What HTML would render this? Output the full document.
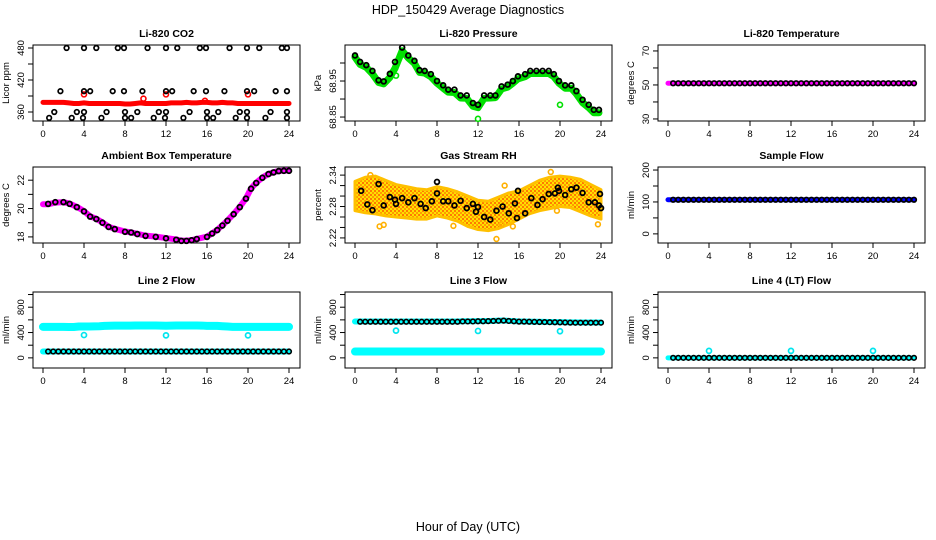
<!DOCTYPE html>
<html><head><meta charset="utf-8">
<style>
html,body{margin:0;padding:0;background:#fff;}
svg{display:block;font-family:"Liberation Sans",Arial,sans-serif;}
</style></head>
<body>
<svg id="chart" width="936" height="540" viewBox="0 0 936 540">
<defs>
<pattern id="orangePat" width="4" height="4" patternUnits="userSpaceOnUse">
<rect width="4" height="4" fill="#ffe000"/><rect width="2" height="2" fill="#ff9a00"/><rect x="2" y="2" width="2" height="2" fill="#ff7a00"/>
</pattern>
</defs>
<text x="468" y="14" text-anchor="middle" font-size="12.5">HDP_150429  Average Diagnostics</text>
<text x="468" y="531" text-anchor="middle" font-size="12.5">Hour of Day (UTC)</text>
</svg>
<script>
// ---- data ----
const H = [0,0.5,1,1.5,2,2.5,3,3.5,4,4.5,5,5.5,6,6.5,7,7.5,8,8.5,9,9.5,10,10.5,11,11.5,12,12.5,13,13.5,14,14.5,15,15.5,16,16.5,17,17.5,18,18.5,19,19.5,20,20.5,21,21.5,22,22.5,23,23.5,24];
const xTicks = [0,4,8,12,16,20,24];

const co2BlackX = [2.3,4.0,5.2,7.3,7.9,10.2,12.0,13.1,15.3,15.9,18.2,19.9,21.1,23.3,23.8, 1.7,4.0,4.6,6.8,7.9,9.7,12.0,12.6,14.7,15.9,17.7,19.9,20.6,22.7,23.8, 1.1,3.3,4.0,6.2,8.0,9.2,11.3,12.0,14.3,16.0,17.1,19.2,19.9,22.2,23.8, 0.6,2.8,3.9,5.7,8.0,8.6,10.8,11.9,13.7,16.0,16.6,18.8,19.9,21.7,23.8];
const co2BlackY = [480,480,480,480,480,480,480,480,480,480,480,480,480,480,480, 399,399,399,399,399,399,399,399,399,399,399,399,399,399,399, 360,360,360,360,360,360,360,360,360,360,360,360,360,360,360, 349,349,349,349,349,349,349,349,349,349,349,349,349,349,349];
const co2Red = [378,378,378,378,378,377,376,376,377,376,376,376,376,376,376,376,375,375,376,377,376,376,376,376,376,377,377,377,378,377,377,378,378,377,377,378,377,377,376,376,376,376,376,376,376,376,376,376,376];
const co2RedOutX = [4,12,20,9.8,15.8];
const co2RedOutY = [393,393,393,385,381];

const presX = [0,0.5,1.1,1.7,2.3,2.8,3.4,3.9,4.6,5.2,5.8,6.3,6.8,7.4,8,8.6,9.1,9.7,10.3,10.9,11.5,12,12.6,13.2,13.7,14.3,14.9,15.4,15.9,16.6,17.1,17.7,18.3,18.9,19.4,19.9,20.5,21.1,21.6,22.2,22.8,23.3,23.8];
const presBlack = [69.021,69.003,68.994,68.978,68.952,68.949,68.970,69.003,69.043,69.021,69.006,68.980,68.978,68.969,68.950,68.938,68.926,68.926,68.910,68.910,68.889,68.884,68.910,68.910,68.910,68.935,68.940,68.950,68.963,68.969,68.978,68.978,68.978,68.978,68.969,68.950,68.938,68.938,68.922,68.898,68.884,68.870,68.870];
const presGreen = [69.016,68.996,68.988,68.970,68.946,68.942,68.960,68.985,69.034,69.014,68.999,68.974,68.972,68.962,68.944,68.930,68.919,68.918,68.903,68.902,68.880,68.876,68.902,68.903,68.904,68.928,68.933,68.944,68.956,68.962,68.971,68.971,68.971,68.971,68.962,68.944,68.930,68.930,68.914,68.890,68.876,68.862,68.862];
const presOutX = [4,12,20];
const presOutY = [68.965,68.845,68.884];

const tempMag = [51,51,51,51,51,51,51,51,51,51,51,51,51,51,51,51,51,51,51,51,51,51,51,51,51,51,51,51,51,51,51,51,51,51,51,51,51,51,51,51,51,51,51,51,51,51,51,51,51];
const tempBlack = [null,51,51,51,51,51,51,51,51,51,51,51,51,51,51,51,51,51,51,51,51,51,51,51,51,51,51,51,51,51,51,51,51,51,51,51,51,51,51,51,51,51,51,51,51,51,51,51,51];

const ambX = [0.5,1.2,2,2.6,3.3,4,4.6,5.2,5.8,6.4,7,8,8.6,9.2,10,11,12,13,13.5,14,14.5,15,16,16.5,17,17.5,18,18.6,19.2,19.8,20.3,20.8,21.4,22,22.5,23,23.5,24];
const ambBlack = [20.33,20.45,20.45,20.33,20.1,19.8,19.43,19.26,19.0,18.7,18.55,18.36,18.31,18.2,18.07,18.0,17.9,17.8,17.72,17.72,17.76,17.85,18.0,18.24,18.48,18.8,19.14,19.6,20.1,20.7,21.4,21.8,22.17,22.43,22.55,22.64,22.66,22.66];
const ambMag = [20.3,20.42,20.45,20.35,20.12,19.82,19.45,19.28,19.02,18.72,18.57,18.38,18.32,18.22,18.09,18.02,17.92,17.82,17.74,17.74,17.77,17.86,18.02,18.25,18.5,18.82,19.16,19.62,20.12,20.72,21.42,21.82,22.18,22.44,22.56,22.65,22.67,22.67];

const rhBandX = [0,1,2,3,4,5,6,7,8,9,10,11,12,13,14,15,16,17,18,19,20,21,22,23,24];
const rhUpper = [2.328,2.336,2.338,2.330,2.322,2.318,2.314,2.312,2.318,2.314,2.308,2.300,2.292,2.290,2.298,2.306,2.310,2.320,2.330,2.336,2.338,2.336,2.332,2.322,2.312];
const rhLower = [2.272,2.268,2.266,2.262,2.260,2.258,2.256,2.256,2.262,2.258,2.252,2.242,2.236,2.234,2.238,2.246,2.256,2.266,2.272,2.276,2.280,2.278,2.270,2.262,2.256];
const rhOutX = [1.5,2.4,2.8,9.6,13.8,14.3,14.6,15.4,19.1,19.7,23.7];
const rhOutY = [2.340,2.242,2.245,2.243,2.218,2.246,2.320,2.242,2.346,2.272,2.246];
const rhBlackX = [0.6,1.2,1.7,2.3,2.8,3.4,3.9,4.0,4.6,5.2,5.8,6.4,6.9,7.5,8,8,8.6,9.1,9.7,10.3,10.9,11.5,11.8,12,12.6,13.2,13.8,14.4,15,15.6,15.8,15.9,16.6,17.2,17.8,18.3,18.9,19.5,19.8,19.9,20.5,21.1,21.6,22.2,22.8,23.4,23.8,23.9,24];
const rhBlack = [2.310,2.284,2.273,2.323,2.282,2.298,2.293,2.285,2.296,2.288,2.296,2.285,2.277,2.290,2.305,2.327,2.290,2.290,2.282,2.291,2.277,2.285,2.270,2.279,2.260,2.255,2.272,2.280,2.267,2.286,2.258,2.310,2.267,2.296,2.283,2.294,2.304,2.305,2.316,2.310,2.302,2.313,2.316,2.306,2.288,2.288,2.282,2.304,2.277];

const sfBlue = [107,107,107,107,107,107,107,107,107,107,107,107,107,107,107,107,107,107,107,107,107,107,107,107,107,107,107,107,107,107,107,107,107,107,107,107,107,107,107,107,107,107,107,107,107,107,107,107,107];
const sfBlack = [null,107,107,107,107,107,107,107,107,107,107,107,107,107,107,107,107,107,107,107,107,107,107,107,107,107,107,107,107,107,107,107,107,107,107,107,107,107,107,107,107,107,107,107,107,107,107,107,107];

const l2High = [490,490,490,490,490,488,488,495,495,495,498,500,505,508,510,510,510,510,512,512,512,512,512,510,508,510,512,512,512,512,512,510,505,505,505,500,495,490,490,490,490,490,490,490,490,490,490,490,490];
const l2Low = [100,100,100,100,100,100,100,100,100,100,100,100,100,100,100,100,100,100,100,100,100,100,100,100,100,100,100,100,100,100,100,100,100,100,100,100,100,100,100,100,100,100,100,100,100,100,100,100,100];
const l2Black = [null,100,100,100,100,100,100,100,100,100,100,100,100,100,100,100,100,100,100,100,100,100,100,100,100,100,100,100,100,100,100,100,100,100,100,100,100,100,100,100,100,100,100,100,100,100,100,100,100];
const l2OutX = [4,12,20];
const l2OutY = [360,355,355];

const l3High = [575,575,575,575,575,575,575,575,575,575,575,575,575,575,575,575,575,575,575,575,575,578,578,578,580,580,582,585,588,590,585,580,575,575,572,570,570,568,566,565,565,563,560,560,558,558,558,558,558];
const l3Black = [null,570,570,570,570,570,570,570,570,570,570,570,570,570,570,570,570,570,570,570,570,575,575,575,578,578,580,583,585,588,583,578,572,572,570,568,566,565,563,562,560,558,556,555,555,555,555,555,555];
const l3Low = [100,100,100,100,100,100,100,100,100,100,100,100,100,100,100,100,100,100,100,100,100,100,100,100,100,100,100,100,100,100,100,100,100,100,100,100,100,100,100,100,100,100,100,100,100,100,100,100,100];
const l3OutX = [4,12,20];
const l3OutY = [430,425,420];

const l4Cyan = [0,0,0,0,0,0,0,0,0,0,0,0,0,0,0,0,0,0,0,0,0,0,0,0,0,0,0,0,0,0,0,0,0,0,0,0,0,0,0,0,0,0,0,0,0,0,0,0,0];
const l4Black = [null,0,0,0,0,0,0,0,0,0,0,0,0,0,0,0,0,0,0,0,0,0,0,0,0,0,0,0,0,0,0,0,0,0,0,0,0,0,0,0,0,0,0,0,0,0,0,0,0];
const l4OutX = [4,12,20];
const l4OutY = [110,110,110];

// ---- drawing ----
const svg = document.getElementById('chart');
const NS = 'http://www.w3.org/2000/svg';
function mk(tag, attrs, parent){ const e=document.createElementNS(NS,tag); for(const k in attrs) e.setAttribute(k,attrs[k]); (parent||svg).appendChild(e); return e; }

const colLeft = [33,345,658];
const rowTop = [45,167,292];
const BW = 267, BHt = 76;

function panel(c, r, title, ylab, ymin, ymax, yticks, ylabels, name){
  const g = mk('g',{});
  
  
  const L = colLeft[c], T = rowTop[r], B = T + BHt;
  const x0 = L + 10, x1 = L + 256;
  const sx = v => x0 + (x1-x0)*v/24;
  const sy = v => B - (v-ymin)/(ymax-ymin)*BHt;
  const box = mk('rect',{x:L,y:T,width:BW,height:BHt,fill:'none',stroke:'#000','stroke-width':1},g);
  
  
  const t = mk('text',{x:L+BW/2,y:T-8,'text-anchor':'middle','font-size':10.5,'font-weight':'bold'},g);
  t.textContent = title;
  
  
  xTicks.forEach(v=>{
    mk('line',{x1:sx(v),x2:sx(v),y1:B,y2:B+5,stroke:'#000'},g);
    const tl = mk('text',{x:sx(v),y:B+16,'text-anchor':'middle','font-size':9.5},g);
    tl.textContent = v;
    
    
  });
  yticks.forEach((v,i)=>{
    const y = sy(v);
    mk('line',{x1:L-5,x2:L,y1:y,y2:y,stroke:'#000'},g);
    if(ylabels[i]!==''){
      const tl = mk('text',{x:0,y:0,'text-anchor':'middle','font-size':9.5,transform:`translate(${L-9},${y}) rotate(-90)`},g);
      tl.textContent = ylabels[i];
      
      
    }
  });
  const yt = mk('text',{x:0,y:0,'text-anchor':'middle','font-size':9.5,transform:`translate(${L-24},${(T+B)/2}) rotate(-90)`},g);
  yt.textContent = ylab;
  
  
  const sg = mk('g',{},g);
  return {sx, sy, g:sg};
}

function band(p, xs, ys, color, w, name){
  let d=''; xs.forEach((x,i)=>{ if(ys[i]==null) return; d += (d?'L':'M')+p.sx(x)+' '+p.sy(ys[i]); });
  const e = mk('path',{d, fill:'none', stroke:color,'stroke-width':w,'stroke-linecap':'round','stroke-linejoin':'round'},p.g);
  
  
}
function pts(p, xs, ys, color, r, sw, name){
  const g = mk('g',{},p.g);
  
  
  xs.forEach((x,i)=>{ if(ys[i]==null) return;
    mk('circle',{cx:p.sx(x),cy:p.sy(ys[i]),r:r,fill:'none',stroke:color,'stroke-width':sw},g); });
}

let p = panel(0,0,'Li-820 CO2','Licor ppm',343.1,485.6,[360,390,420,450,480],['360','','420','','480'],'panel-co2');
band(p,H,co2Red,'#ff0000',5,'co2-red-series');
pts(p,co2RedOutX,co2RedOutY,'#ff0000',2.5,1.6,'co2-red-outliers');
pts(p,co2BlackX,co2BlackY,'#000',2.3,1.7,'co2-black-points');

p = panel(1,0,'Li-820 Pressure','kPa',68.839,69.05,[68.85,68.90,68.95,69.00],['68.85','','68.95',''],'panel-pressure');
band(p,presX,presGreen,'#00e000',7,'pressure-green-series');
pts(p,presOutX,presOutY,'#00e000',2.5,1.6,'pressure-green-outliers');
pts(p,presX,presBlack,'#000',2.4,1.8,'pressure-black-points');

p = panel(2,0,'Li-820 Temperature','degrees C',28.8,73.5,[30,40,50,60,70],['30','','50','','70'],'panel-temperature');
band(p,H,tempMag,'#ff00ff',5,'temperature-magenta-series');
pts(p,H,tempBlack,'#000',2.3,1.7,'temperature-black-points');

p = panel(0,1,'Ambient Box Temperature','degrees C',17.57,22.93,[18,19,20,21,22],['18','','20','','22'],'panel-ambient');
band(p,[0].concat(ambX),[20.3].concat(ambMag),'#ff00ff',6,'ambient-magenta-series');
pts(p,ambX,ambBlack,'#000',2.4,1.8,'ambient-black-points');

p = panel(1,1,'Gas Stream RH','percent',2.2103,2.3555,[2.22,2.24,2.26,2.28,2.30,2.32,2.34],['2.22','','','2.28','','','2.34'],'panel-rh');
(function(){
  let d=''; rhBandX.forEach((x,i)=>{ d+=(i?'L':'M')+p.sx(x)+' '+p.sy(rhUpper[i]); });
  for(let i=rhBandX.length-1;i>=0;i--) d+='L'+p.sx(rhBandX[i])+' '+p.sy(rhLower[i]);
  d+='Z';
  const e = mk('path',{d,fill:'url(#orangePat)',stroke:'#ffc000','stroke-width':3,'stroke-linejoin':'round'},p.g);
  
  
})();
pts(p,rhOutX,rhOutY,'#ffb000',2.4,1.6,'rh-orange-outliers');
pts(p,rhBlackX,rhBlack,'#000',2.4,1.8,'rh-black-points');

p = panel(2,1,'Sample Flow','ml/min',-28.6,209.5,[0,50,100,150,200],['0','','100','','200'],'panel-sample-flow');
band(p,H,sfBlue,'#0000ff',5,'sample-flow-blue-series');
pts(p,H,sfBlack,'#000',2.3,1.7,'sample-flow-black-points');

p = panel(0,2,'Line 2 Flow','ml/min',-160,1040,[0,200,400,600,800,1000],['0','','400','','800',''],'panel-line2-flow');
band(p,H,l2High,'#00ffff',8,'line2-cyan-high');
band(p,H,l2Low,'#00ffff',6,'line2-cyan-low');
pts(p,l2OutX,l2OutY,'#00e5ee',2.5,1.7,'line2-cyan-outliers');
pts(p,H,l2Black,'#000',2.3,1.6,'line2-black-points');

p = panel(1,2,'Line 3 Flow','ml/min',-160,1040,[0,200,400,600,800,1000],['0','','400','','800',''],'panel-line3-flow');
band(p,H,l3High,'#00ffff',6,'line3-cyan-high');
band(p,H,l3Low,'#00ffff',8,'line3-cyan-low');
pts(p,l3OutX,l3OutY,'#00e5ee',2.5,1.7,'line3-cyan-outliers');
pts(p,H,l3Black,'#000',2.3,1.6,'line3-black-points');

p = panel(2,2,'Line 4 (LT) Flow','ml/min',-160,1040,[0,200,400,600,800,1000],['0','','400','','800',''],'panel-line4-flow');
band(p,H,l4Cyan,'#00ffff',5,'line4-cyan-series');
pts(p,l4OutX,l4OutY,'#00e5ee',2.5,1.7,'line4-cyan-outliers');
pts(p,H,l4Black,'#000',2.3,1.6,'line4-black-points');
</script>
</body></html>
